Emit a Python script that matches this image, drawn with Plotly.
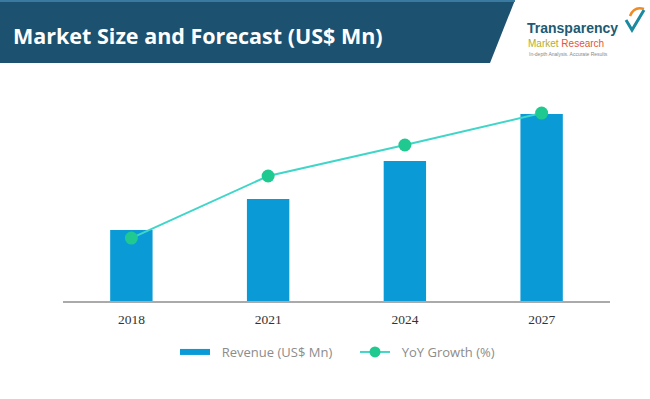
import plotly.graph_objects as go

# ---- data ----
years = ["2018", "2021", "2024", "2027"]
revenue = [3.53, 5.07, 6.97, 9.30]      # relative bar heights (US$ Mn, scaled)
yoy_growth = [3.13, 6.22, 7.76, 9.35]   # relative line heights (%)
title_text = "Market Size and Forecast (US$ Mn)"
revenue_name = "Revenue (US$ Mn)"
yoy_name = "YoY Growth (%)"

BAR = "#0a9ad6"
LINE = "#3fd6c9"
MARK = "#1fc98f"
HEAD = "#1c5170"

W, H = 650, 399
L, R, T, B = 63, 40, 100, 98
PW, PH = W - L - R, H - T - B

def px(x):
    return (x - L) / PW

def py(y):
    return (H - B - y) / PH

fig = go.Figure()
fig.add_trace(go.Bar(x=years, y=revenue, marker=dict(color=BAR, line=dict(width=0)),
                     name=revenue_name, showlegend=False, yaxis="y"))
fig.add_trace(go.Scatter(x=years, y=yoy_growth, mode="lines+markers", name=yoy_name,
                         line=dict(color=LINE, width=2),
                         marker=dict(color=MARK, size=13), yaxis="y2", showlegend=False))
# legend proxies
NB = "\u00a0"
fig.add_trace(go.Scatter(x=[None], y=[None], mode="lines", name=NB * 2 + revenue_name,
                         line=dict(color=BAR, width=6)))
fig.add_trace(go.Scatter(x=[None], y=[None], mode="lines+markers", name=NB * 2 + yoy_name,
                         line=dict(color=LINE, width=2), marker=dict(color=MARK, size=11)))

shapes = [
    dict(type="path", xref="paper", yref="paper",
         path=f"M {px(0)} {py(0)} L {px(515)} {py(0)} L {px(490)} {py(63)} L {px(0)} {py(63)} Z",
         fillcolor=HEAD, line=dict(width=0), layer="above"),
    dict(type="rect", xref="paper", yref="paper", x0=px(0), x1=px(515), y0=py(0), y1=py(2),
         fillcolor="#3a7aa0", line=dict(width=0), layer="above"),
    # logo check mark
    dict(type="path", xref="paper", yref="paper",
         path=f"M {px(626)} {py(20)} L {px(632)} {py(30)} L {px(644)} {py(10)}",
         line=dict(color="#1a8aa0", width=3), layer="above"),
    dict(type="path", xref="paper", yref="paper",
         path=f"M {px(630)} {py(16)} Q {px(634)} {py(6)} {px(644)} {py(9)}",
         line=dict(color="#f08a24", width=2.5), layer="above"),
]

annotations = [
    dict(text=f"<b>{title_text}</b>", xref="paper", yref="paper", x=px(11), y=py(35),
         xanchor="left", yanchor="middle", showarrow=False,
         font=dict(family="Open Sans", size=21.5, color="white")),
    dict(text="<b>Transparency</b>", xref="paper", yref="paper", x=px(525), y=py(28),
         xanchor="left", yanchor="middle", showarrow=False,
         font=dict(family="Liberation Sans Narrow, Liberation Sans", size=14, color="#1d5a73")),
    dict(text="<span style='color:#b5ad34'>Market</span> <span style='color:#e2553c'>Research</span>",
         xref="paper", yref="paper", x=px(526), y=py(43),
         xanchor="left", yanchor="middle", showarrow=False,
         font=dict(family="Liberation Sans", size=10)),
    dict(text="In-depth Analysis. Accurate Results", xref="paper", yref="paper", x=px(527), y=py(54),
         xanchor="left", yanchor="middle", showarrow=False,
         font=dict(family="Liberation Sans", size=5, color="#888888")),
]

fig.update_layout(
    width=W, height=H,
    margin=dict(l=L, r=R, t=T, b=B),
    paper_bgcolor="white", plot_bgcolor="white",
    bargap=0.69,
    xaxis=dict(type="category", showline=True, linecolor="#aaaaaa", linewidth=2,
               showgrid=False, ticks="", zeroline=False, ticklabelstandoff=5,
               tickfont=dict(family="Liberation Serif", size=13.5, color="#333333")),
    yaxis=dict(range=[0, 10], visible=False, showgrid=False, zeroline=False),
    yaxis2=dict(range=[0, 10], visible=False, overlaying="y", showgrid=False, zeroline=False),
    legend=dict(orientation="h", x=px(175), y=py(352), xanchor="left", yanchor="middle",
                font=dict(family="Open Sans", size=13, color="#8c8c8c"),
                bgcolor="rgba(0,0,0,0)", itemwidth=30, entrywidth=135),
    shapes=shapes,
    annotations=annotations,
    showlegend=True,
)

fig.write_html("out.html", config={"displayModeBar": False},
               post_script="document.body.style.margin='0';")
